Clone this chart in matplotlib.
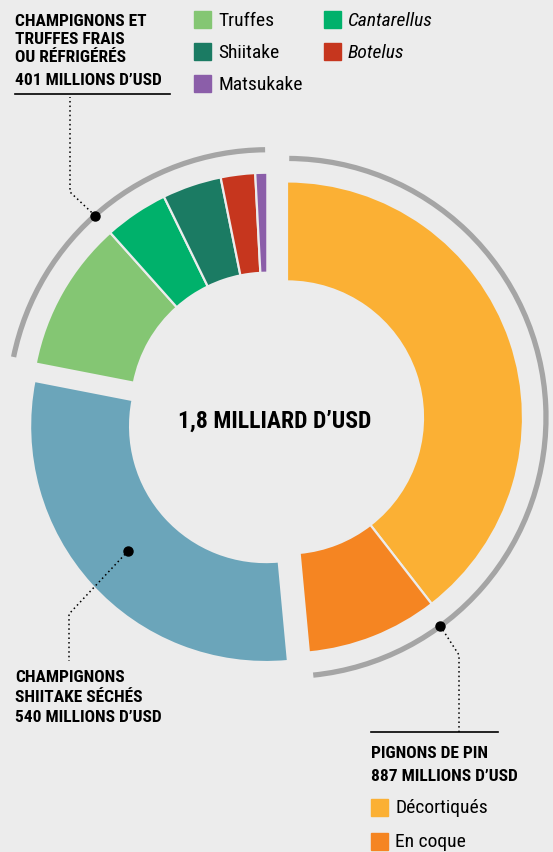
import numpy as np
import matplotlib
matplotlib.use('Agg')
import matplotlib.pyplot as plt
from matplotlib.patches import Arc, Rectangle
from matplotlib import font_manager

# data (millions USD)
pine_labels = ['Décortiqués', 'En coque']
pine_values = [722, 165]
dried_labels = ['Champignons shiitake séchés']
dried_values = [540]
fresh_labels = ['Truffes', 'Cantarellus', 'Shiitake', 'Botelus', 'Matsukake']
fresh_values = [189, 80, 74, 43, 15]

pine_colors = ['#fbb034', '#f58522']
dried_colors = ['#6ba5ba']
fresh_colors = ['#84c673', '#00b16b', '#1b7b63', '#c6361e', '#8b5ea9']

bg = '#ececec'
arc_gray = '#a5a5a5'

names = {f.name for f in font_manager.fontManager.ttflist}
cond = next((n for n in ['Roboto Condensed', 'Liberation Sans Narrow'] if n in names), 'Liberation Sans')
plt.rcParams['font.family'] = [cond, 'DejaVu Sans']

W, H = 553, 853
fig = plt.figure(figsize=(W / 100, H / 100), dpi=100, facecolor=bg)
ax = fig.add_axes([0, 0, 1, 1])
ax.set_facecolor(bg)

values = pine_values + dried_values + fresh_values
colors = pine_colors + dried_colors + fresh_colors
groups = [0] * len(pine_values) + [1] * len(dried_values) + [2] * len(fresh_values)
total = sum(values)

cx, cy = 275, 419
R, r = 236, 136
shift = 12

# group angles, clockwise from top (degrees)
bounds = np.cumsum([0, sum(pine_values), sum(dried_values), sum(fresh_values)]) / total * 360
centers = []
for g in range(3):
    mid = np.radians((bounds[g] + bounds[g + 1]) / 2)
    gc = (cx + shift * np.sin(mid), cy - shift * np.cos(mid))
    centers.append(gc)
    wedges, _ = ax.pie(values, colors=colors, startangle=-90, counterclock=True,
                       radius=R, center=gc,
                       wedgeprops=dict(width=R - r, edgecolor=bg, linewidth=1.6))
    for w, gg in zip(wedges, groups):
        if gg != g:
            w.set_visible(False)


def pt(c, a, rho):
    a = np.radians(a)
    return c[0] + rho * np.sin(a), c[1] - rho * np.cos(a)


# gray arcs around fresh and pine groups
arc_r = R + 23
for g in (0, 2):
    a1, a2 = bounds[g] + 0.5, bounds[g + 1] - 0.5
    ax.add_patch(Arc(centers[g], 2 * arc_r, 2 * arc_r, theta1=a1 - 90, theta2=a2 - 90,
                     color=arc_gray, lw=3.8))

ax.set_xlim(0, W)
ax.set_ylim(H, 0)
ax.set_aspect('equal')
ax.axis('off')

dot_kw = dict(color='black', linestyle=(0, (1, 2)), lw=1.1)

# fresh leader: dot at truffes/cantarellus boundary on arc
a_fr = bounds[2] + fresh_values[0] / total * 360
fx, fy = pt(centers[2], a_fr, arc_r)
ax.plot([fx, 70, 70], [fy, 193, 98], **dot_kw)
ax.plot(fx, fy, 'o', color='black', ms=6.5)

# pine leader: dot near décortiqués/en coque boundary on arc
a_pn = pine_values[0] / total * 360 + 1.5
px, py = pt(centers[0], a_pn, arc_r)
ax.plot([px, 459, 459], [py, 656, 733], **dot_kw)
ax.plot(px, py, 'o', color='black', ms=6.5)

# dried leader: dot at group mid
a_dr = (bounds[1] + bounds[2]) / 2
dx, dy = pt(centers[1], a_dr, (R + r) / 2)
ax.plot([dx, 69, 69], [dy, 615, 662], **dot_kw)
ax.plot(dx, dy, 'o', color='black', ms=6.5)

# center text
ax.text(cx, 421, '1,8 MILLIARD D’USD', ha='center', va='center', fontsize=17, fontweight='bold')

# top-left label
hs = 12.5
for y, s in zip([21, 39, 57], ['CHAMPIGNONS ET', 'TRUFFES FRAIS', 'OU RÉFRIGÉRÉS']):
    ax.text(15, y, s, ha='left', va='center', fontsize=hs, fontweight='bold')
ax.text(15, 80, '401 MILLIONS D’USD', ha='left', va='center', fontsize=hs, fontweight='heavy')
ax.plot([15, 170], [95, 95], color='black', lw=1.2)

# bottom-left label
for y, s in zip([678, 697], ['CHAMPIGNONS', 'SHIITAKE SÉCHÉS']):
    ax.text(15, y, s, ha='left', va='center', fontsize=hs, fontweight='bold')
ax.text(15, 718, '540 MILLIONS D’USD', ha='left', va='center', fontsize=hs, fontweight='heavy')

# bottom-right label
ax.plot([371, 498], [733, 733], color='black', lw=1.2)
ax.text(371, 753, 'PIGNONS DE PIN', ha='left', va='center', fontsize=hs, fontweight='bold')
ax.text(371, 777, '887 MILLIONS D’USD', ha='left', va='center', fontsize=hs, fontweight='heavy')

# legends
ls = 14
sq = 17


def legend_item(x, y, color, label, style='normal'):
    ax.add_patch(Rectangle((x, y - sq / 2), sq, sq, color=color))
    ax.text(x + 24, y, label, ha='left', va='center', fontsize=ls, fontstyle=style)


legend_item(194, 20.5, fresh_colors[0], fresh_labels[0])
legend_item(194, 52.5, fresh_colors[2], fresh_labels[2])
legend_item(194, 84.5, fresh_colors[4], fresh_labels[4])
legend_item(324, 20.5, fresh_colors[1], fresh_labels[1], 'italic')
legend_item(324, 52.5, fresh_colors[3], fresh_labels[3], 'italic')
legend_item(371, 808.5, pine_colors[0], pine_labels[0])
legend_item(371, 842.5, pine_colors[1], pine_labels[1])

fig.savefig('out.png', dpi=100, facecolor=bg)
